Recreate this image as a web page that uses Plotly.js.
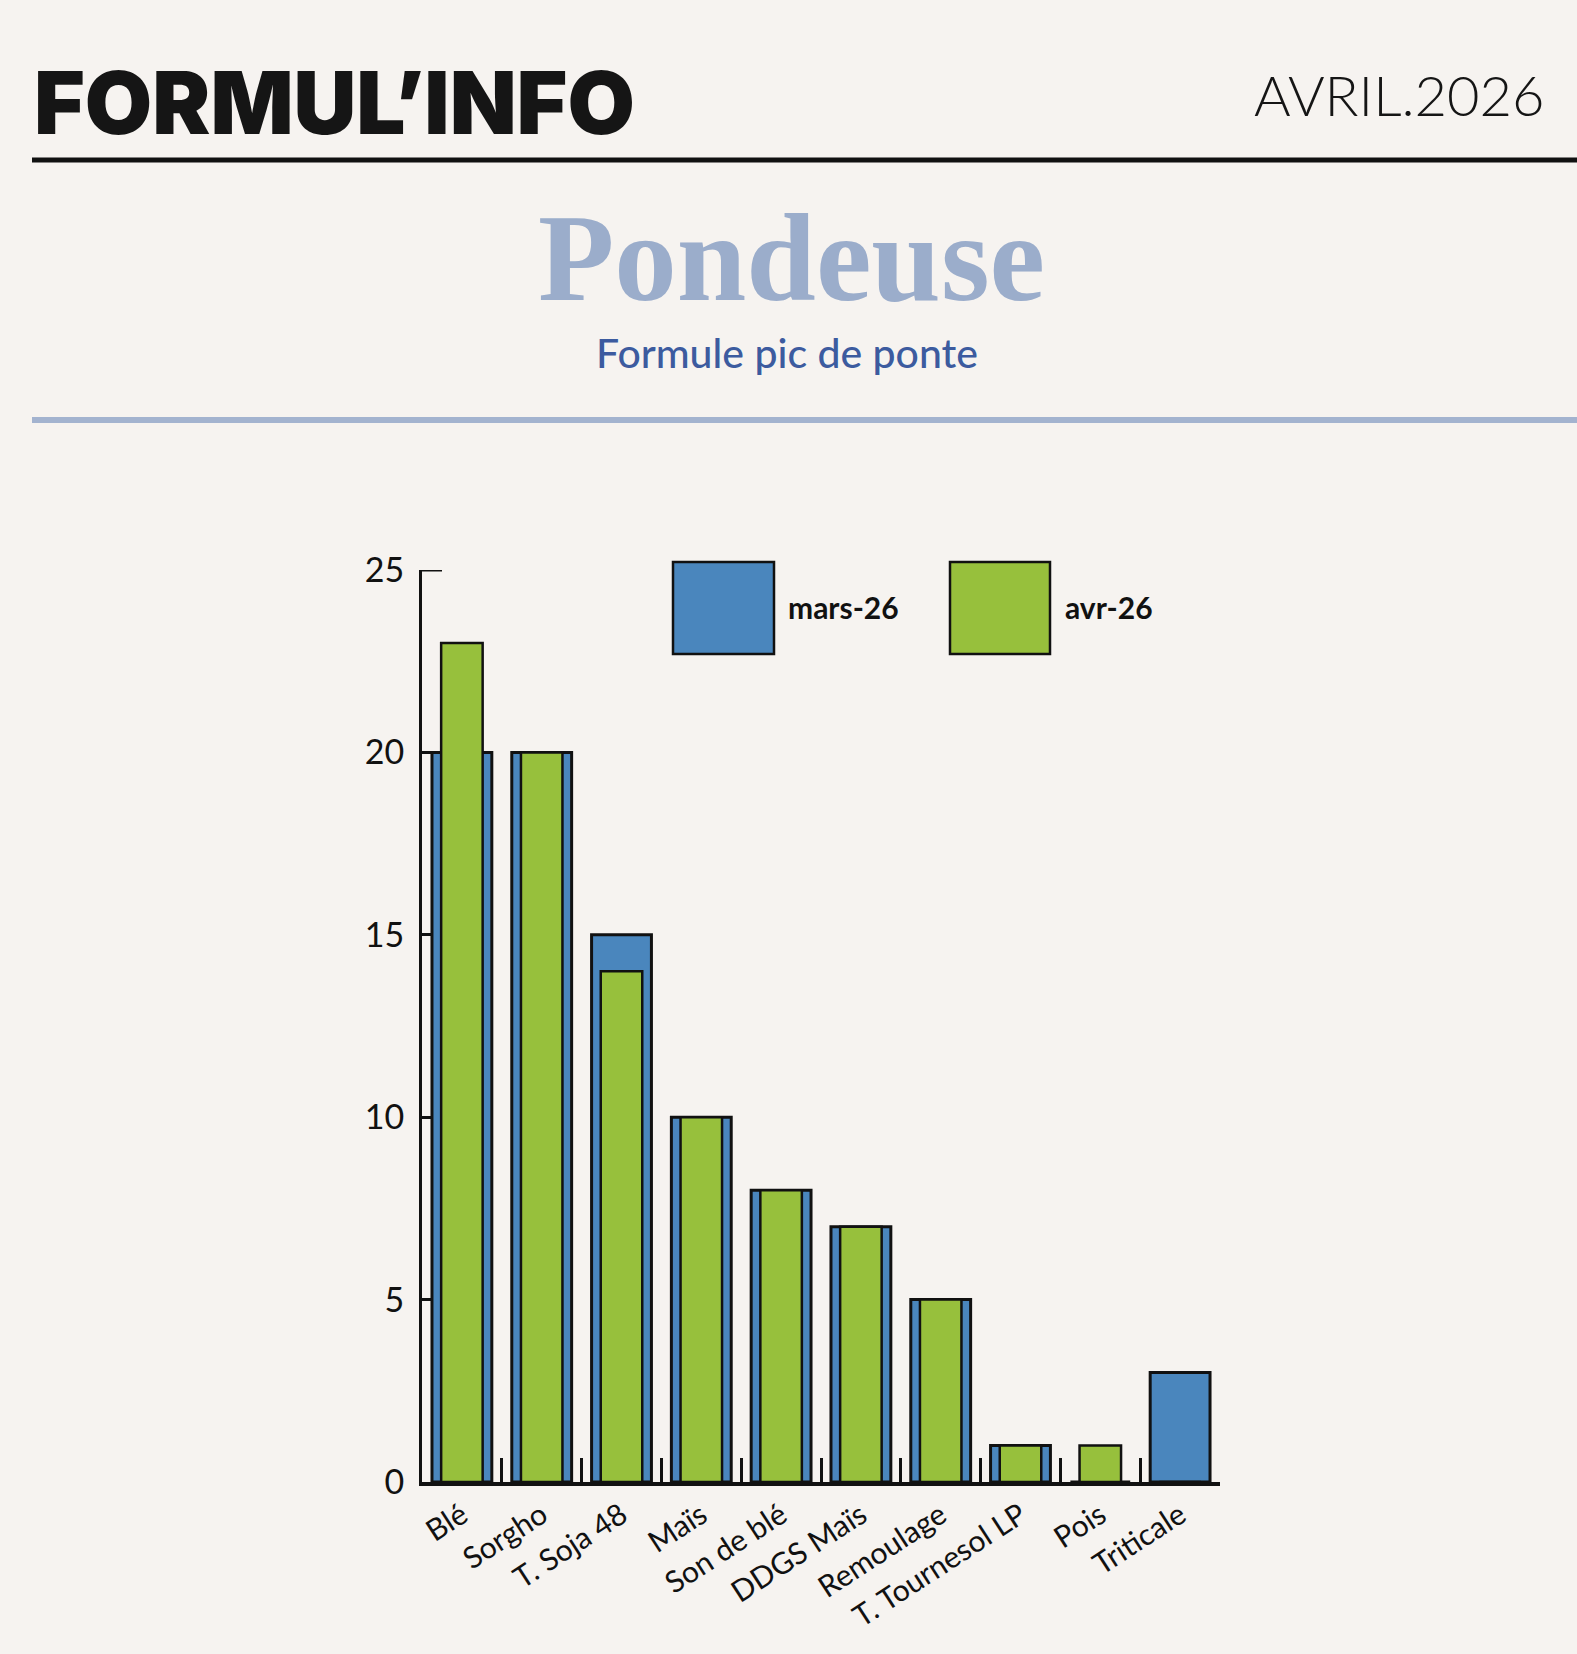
<!DOCTYPE html>
<html>
<head>
<meta charset="utf-8">
<script src="https://cdn.plot.ly/plotly-3.0.1.min.js"></script>
<style>
  html, body { margin: 0; padding: 0; background: #f6f3f0; }
  #chart { width: 1577px; height: 1654px; }
</style>
</head>
<body>
<div id="chart"></div>
<script>
// ------------------------------------------------------------------------------
// DATA

const categories = ['Blé', 'Sorgho', 'T. Soja 48', 'Maïs', 'Son de blé',
                    'DDGS Maïs', 'Remoulage', 'T. Tournesol LP', 'Pois', 'Triticale'];
const mars_values = [20, 20, 15, 10, 8, 7, 5, 1, 0, 3];
const avr_values  = [23, 20, 14, 10, 8, 7, 5, 1, 1, 0];
const series_names = ['mars-26', 'avr-26'];
const y_ticks = [0, 5, 10, 15, 20, 25];

// ------------------------------------------------------------------------------
// PARAMETERS

const W = 1577, H = 1654;
const plot_l = 422, plot_r = 1220, plot_t = 570, plot_b = 1482;
const blue  = '#4a86bd';
const green = '#97c03c';
const bg    = '#f6f3f0';
const font_family = 'Lato, "Open Sans", "DejaVu Sans", sans-serif';

// pixel -> paper coordinates
function px(x) { return (x - plot_l) / (plot_r - plot_l); }
function py(y) { return (plot_b - y) / (plot_b - plot_t); }

// ------------------------------------------------------------------------------
// TRACES

const mars_trace = {
    type: 'bar',
    name: series_names[0],
    x: categories,
    y: mars_values,
    width: 0.75,
    marker: { color: blue, line: { color: '#111', width: 3 } },
    hoverinfo: 'none'
};

const avr_trace = {
    type: 'bar',
    name: series_names[1],
    x: categories,
    y: avr_values,
    width: 0.52,
    marker: { color: green, line: { color: '#111', width: 2.5 } },
    hoverinfo: 'none'
};

// ------------------------------------------------------------------------------
// LAYOUT

const y_max = y_ticks[y_ticks.length - 1];

const shapes = [
    // header rule
    { type: 'line', xref: 'paper', yref: 'paper', x0: px(32), x1: px(1577), y0: py(160), y1: py(160),
      line: { color: '#111', width: 5 } },
    // light blue rule
    { type: 'line', xref: 'paper', yref: 'paper', x0: px(32), x1: px(1577), y0: py(420), y1: py(420),
      line: { color: '#a3b3cf', width: 6 } },
    // top tick of the value axis (plotly drops the inside tick at the range end)
    { type: 'line', xref: 'paper', yref: 'y', x0: 0, x1: px(442), y0: y_max, y1: y_max,
      line: { color: '#111', width: 3 } },
    // legend swatches
    { type: 'rect', xref: 'paper', yref: 'paper', x0: px(673), x1: px(774), y0: py(654), y1: py(562),
      fillcolor: blue, line: { color: '#111', width: 2.5 } },
    { type: 'rect', xref: 'paper', yref: 'paper', x0: px(950), x1: px(1050), y0: py(654), y1: py(562),
      fillcolor: green, line: { color: '#111', width: 2.5 } }
];

const annotations = [
    { text: "FORMUL’INFO", xref: 'paper', yref: 'paper', x: px(32), y: py(102),
      xanchor: 'left', yanchor: 'middle', showarrow: false,
      font: { family: 'Inter, Roboto, sans-serif', size: 87, weight: 900, color: '#151515' } },
    { text: 'AVRIL.2026', xref: 'paper', yref: 'paper', x: px(1547), y: py(94),
      xanchor: 'right', yanchor: 'middle', showarrow: false,
      font: { family: font_family, size: 56, weight: 300, color: '#151515' } },
    { text: '<b>Pondeuse</b>', xref: 'paper', yref: 'paper', x: px(791), y: py(258),
      xanchor: 'center', yanchor: 'middle', showarrow: false,
      font: { family: '"Liberation Serif", "DejaVu Serif", serif', size: 125, color: '#9badcb' } },
    { text: 'Formule pic de ponte', xref: 'paper', yref: 'paper', x: px(787), y: py(352),
      xanchor: 'center', yanchor: 'middle', showarrow: false,
      font: { family: font_family, size: 41, weight: 500, color: '#3c5b9f' } },
    { text: '<b>' + series_names[0] + '</b>', xref: 'paper', yref: 'paper', x: px(786), y: py(607),
      xanchor: 'left', yanchor: 'middle', showarrow: false,
      font: { family: font_family, size: 30, color: '#111' } },
    { text: '<b>' + series_names[1] + '</b>', xref: 'paper', yref: 'paper', x: px(1063), y: py(607),
      xanchor: 'left', yanchor: 'middle', showarrow: false,
      font: { family: font_family, size: 30, color: '#111' } }
];

const layout = {
    width: W,
    height: H,
    paper_bgcolor: bg,
    plot_bgcolor: bg,
    showlegend: false,
    barmode: 'overlay',
    margin: { l: plot_l, r: W - plot_r, t: plot_t, b: H - plot_b, pad: 0 },
    font: { family: font_family, color: '#111' },
    xaxis: {
        type: 'category',
        showgrid: false,
        zeroline: false,
        showline: true,
        linecolor: '#111',
        linewidth: 4,
        ticks: 'inside',
        tickson: 'boundaries',
        ticklen: 24,
        tickwidth: 3,
        tickcolor: '#111',
        tickangle: -33,
        tickfont: { family: font_family, size: 30, color: '#111' },
        layer: 'below traces'
    },
    yaxis: {
        range: [0, y_max],
        autorange: false,
        tickvals: y_ticks,
        showgrid: false,
        zeroline: false,
        showline: true,
        linecolor: '#111',
        linewidth: 3,
        ticks: 'inside',
        ticklen: 20,
        tickwidth: 3,
        tickcolor: '#111',
        ticklabelstandoff: 8,
        tickfont: { family: font_family, size: 34, color: '#111' },
        layer: 'below traces'
    },
    shapes: shapes,
    annotations: annotations
};

Plotly.newPlot('chart', [mars_trace, avr_trace], layout, { displayModeBar: false, staticPlot: true });
</script>
</body>
</html>
